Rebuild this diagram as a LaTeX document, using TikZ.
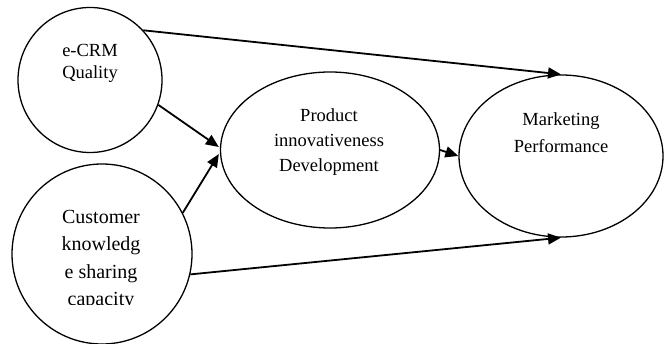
\documentclass[tikz,border=0pt]{standalone}
\usepackage{fontspec}
\setmainfont{Liberation Serif}
\usetikzlibrary{calc,arrows.meta,shapes}
\tikzset{
    construct/.style = {draw, ellipse, line width=1.3pt, inner sep=0pt},
    context/.style = {align=center, font=\fontsize{18.5}{24}\selectfont},
    arrow/.style = {draw, line width=1.8pt, -{Triangle[length=13pt,width=11pt]}}
}

\begin{document}
\begin{tikzpicture}[x=1pt, y=1pt]
        \useasboundingbox (0,0) rectangle (666,343);
        % the four constructs
        \node [construct, minimum width=144pt, minimum height=145pt] (crm) at (90,263) {};
        \node [construct, minimum width=180pt, minimum height=180pt] (cks) at (102,89) {};
        \node [construct, minimum width=219pt, minimum height=156pt] (pid) at (330,193) {};
        \node [construct, minimum width=204pt, minimum height=162pt] (mkt) at (561,187) {};
        % texts sit a bit above the middle, as in a word processor box
        \node [context, font=\fontsize{18.5}{22}\selectfont] (crmtxt) at (90,280) {e-CRM\\Quality};
        \begin{scope}
            % text box too short, last line gets cut
            \clip (20,39) rectangle (190,170);
            \node [context, font=\fontsize{20}{27.5}\selectfont] (ckstxt) at (101,83) {Customer\\knowledg\\e sharing\\capacity};
        \end{scope}
        \node [context, font=\fontsize{18.5}{25}\selectfont] (pidtxt) at (329,201) {Product\\innovativeness\\Development};
        \node [context, font=\fontsize{18.5}{27}\selectfont] (mkttxt) at (561,210) {Marketing\\Performance};
        % paths
        \draw [arrow] (crm.43) -- (mkt.north);
        \draw [arrow] (crm.-20) -- ($(pid.west)+(-1,3)$);
        \draw [arrow] (cks.27) -- ($(pid.west)+(-1,-4)$);
        \draw [arrow] (cks.-13) -- (mkt.south);
        \draw [arrow] (pid.east) -- (mkt.west);
\end{tikzpicture}
\end{document}
